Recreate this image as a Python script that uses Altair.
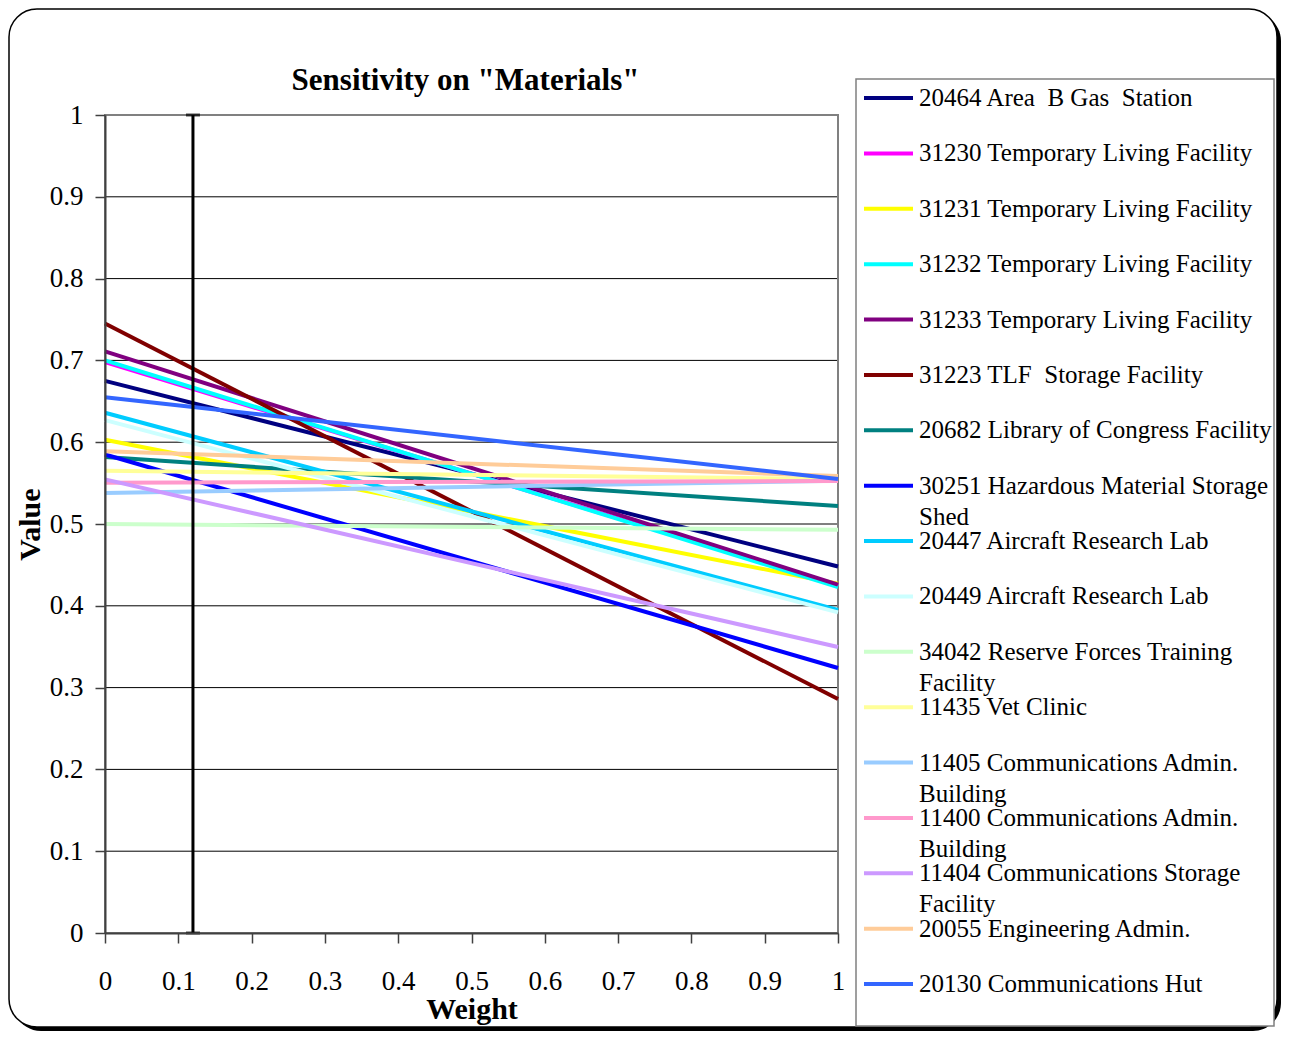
import textwrap
import altair as alt
import pandas as pd

# ---------------- data ----------------
title_text = ['Sensitivity on "Materials"']
series = [
    "20464 Area  B Gas  Station",
    "31230 Temporary Living Facility",
    "31231 Temporary Living Facility",
    "31232 Temporary Living Facility",
    "31233 Temporary Living Facility",
    "31223 TLF  Storage Facility",
    "20682 Library of Congress Facility",
    "30251 Hazardous Material Storage Shed",
    "20447 Aircraft Research Lab",
    "20449 Aircraft Research Lab",
    "34042 Reserve Forces Training Facility",
    "11435 Vet Clinic",
    "11405 Communications Admin. Building",
    "11400 Communications Admin. Building",
    "11404 Communications Storage Facility",
    "20055 Engineering Admin.",
    "20130 Communications Hut",
]
colors = [
    "#000080", "#FF00FF", "#FFFF00", "#00FFFF", "#800080", "#800000",
    "#008080", "#0000FF", "#00CCFF", "#CCFFFF", "#CCFFCC", "#FFFF99",
    "#99CCFF", "#FF99CC", "#CC99FF", "#FFCC99", "#3366FF",
]
weights = [0, 1]
value_at_w0 = [0.675, 0.698, 0.603, 0.700, 0.711, 0.745, 0.582, 0.585, 0.636,
               0.627, 0.500, 0.565, 0.538, 0.5505, 0.5546, 0.589, 0.655]
value_at_w1 = [0.448, 0.425, 0.427, 0.423, 0.426, 0.286, 0.522, 0.324, 0.395,
               0.392, 0.493, 0.555, 0.553, 0.5526, 0.3496, 0.5587, 0.555]

current_weight = [0.12]
current_low = [0.0]
current_high = [1.0]

x_ticks = [0, 0.1, 0.2, 0.3, 0.4, 0.5, 0.6, 0.7, 0.8, 0.9, 1]
y_ticks = [0, 0.1, 0.2, 0.3, 0.4, 0.5, 0.6, 0.7, 0.8, 0.9, 1]
grid_values = [0.1, 0.2, 0.3, 0.4, 0.5, 0.6, 0.7, 0.8, 0.9]

# ---------------- tables ----------------
rows = []
for s, a, b in zip(series, value_at_w0, value_at_w1):
    rows.append({"series": s, "weight": weights[0], "value": a})
    rows.append({"series": s, "weight": weights[1], "value": b})
df = pd.DataFrame(rows)


def wrap_label(s):
    s = s.replace("  ", " \u00a0")
    if len(s) > 34:
        return "\n".join(textwrap.wrap(s, 34))
    return s


legend_df = pd.DataFrame({"series": series, "label": [wrap_label(s) for s in series]})
err_df = pd.DataFrame({"w": current_weight, "lo": current_low, "hi": current_high})
cap_df = pd.DataFrame({"w": current_weight * 2, "v": current_low + current_high})
grid_df = pd.DataFrame({"v": grid_values})
title_df = pd.DataFrame({"t": title_text})
one = pd.DataFrame({"k": [0]})

FONT = "Liberation Serif"
W, H = 733, 818

xscale = alt.Scale(domain=[0, 1], nice=False, zero=False)
yscale = alt.Scale(domain=[0, 1], nice=False, zero=False)
color_scale = alt.Scale(domain=series, range=colors)

# ---------------- decoration ----------------
shadow = alt.Chart(one).mark_rect(fill="black", cornerRadius=28).encode(
    x=alt.value(-92), x2=alt.value(1176), y=alt.value(-102), y2=alt.value(916)
)
border = alt.Chart(one).mark_rect(
    fill="white", stroke="black", strokeWidth=1.5, cornerRadius=28
).encode(x=alt.value(-96), x2=alt.value(1172), y=alt.value(-106), y2=alt.value(912))
legend_box = alt.Chart(one).mark_rect(
    fill="white", stroke="#808080", strokeWidth=1.5
).encode(x=alt.value(751), x2=alt.value(1169), y=alt.value(-36), y2=alt.value(911))
title = alt.Chart(title_df).mark_text(
    font=FONT, fontSize=31, fontWeight="bold", color="black",
    align="center", baseline="alphabetic",
).encode(x=alt.value(W / 2 - 6), y=alt.value(-25), text="t:N")

# ---------------- main plot ----------------
x_axis = alt.Axis(
    orient="bottom", values=x_ticks, format=".1~f", grid=False, zindex=1,
    tickSize=10, tickColor="#404040", tickWidth=1.5,
    domainColor="#404040", domainWidth=2,
    labelFont=FONT, labelFontSize=27, labelColor="black", labelPadding=25,
    labelFlush=False, labelOverlap=False,
    title="Weight", titleFont=FONT, titleFontSize=30, titleFontWeight="bold",
    titleColor="black", titlePadding=0,
)
y_axis = alt.Axis(
    orient="left", values=y_ticks, format=".1~f", grid=False, zindex=1,
    tickSize=10, tickColor="#404040", tickWidth=1.5,
    domainColor="#404040", domainWidth=2,
    labelFont=FONT, labelFontSize=27, labelColor="black", labelPadding=12,
    labelFlush=False, labelOverlap=False,
    title="Value", titleFont=FONT, titleFontSize=30, titleFontWeight="bold",
    titleColor="black", titlePadding=4,
)

grid = alt.Chart(grid_df).mark_rule(color="black", strokeWidth=1).encode(
    y=alt.Y("v:Q", scale=yscale, axis=y_axis)
)
frame = alt.Chart(one).mark_rect(
    fillOpacity=0, stroke="#808080", strokeWidth=2
).encode(x=alt.value(0), x2=alt.value(W), y=alt.value(0), y2=alt.value(H))

lines = alt.Chart(df).mark_line(strokeWidth=4).encode(
    x=alt.X("weight:Q", scale=xscale, axis=x_axis),
    y=alt.Y("value:Q", scale=yscale, axis=y_axis),
    color=alt.Color("series:N", scale=color_scale, legend=None),
)

err = alt.Chart(err_df).mark_rule(color="black", strokeWidth=3).encode(
    x=alt.X("w:Q", scale=xscale, axis=x_axis),
    y=alt.Y("lo:Q", scale=yscale, axis=y_axis),
    y2="hi:Q",
)
caps = alt.Chart(cap_df).mark_tick(
    color="black", orient="horizontal", size=14, thickness=3
).encode(
    x=alt.X("w:Q", scale=xscale, axis=x_axis),
    y=alt.Y("v:Q", scale=yscale, axis=y_axis),
)

main = alt.layer(grid, frame, lines, err, caps)

# ---------------- legend ----------------
leg_y = alt.Y(
    "series:N",
    scale=alt.Scale(type="point", domain=series, range=[-17, 869], padding=0),
    axis=None,
)
leg_rule = alt.Chart(legend_df).mark_rule(strokeWidth=4).encode(
    x=alt.value(759), x2=alt.value(808), y=leg_y,
    color=alt.Color("series:N", scale=color_scale, legend=None),
)
leg_text = alt.Chart(legend_df).mark_text(
    align="left", baseline="alphabetic", dy=8, font=FONT, fontSize=25,
    lineBreak="\n", lineHeight=31, color="black",
).encode(x=alt.value(814), y=leg_y, text="label:N")
legend = alt.layer(leg_rule, leg_text)

chart = (
    alt.layer(shadow, border, legend_box, title, main, legend)
    .resolve_scale(x="independent", y="independent")
    .properties(width=W, height=H, padding=0)
    .configure_view(stroke=None)
    .configure(font=FONT)
)

chart.save("out.html", embed_options={"renderer": "svg", "actions": False})
